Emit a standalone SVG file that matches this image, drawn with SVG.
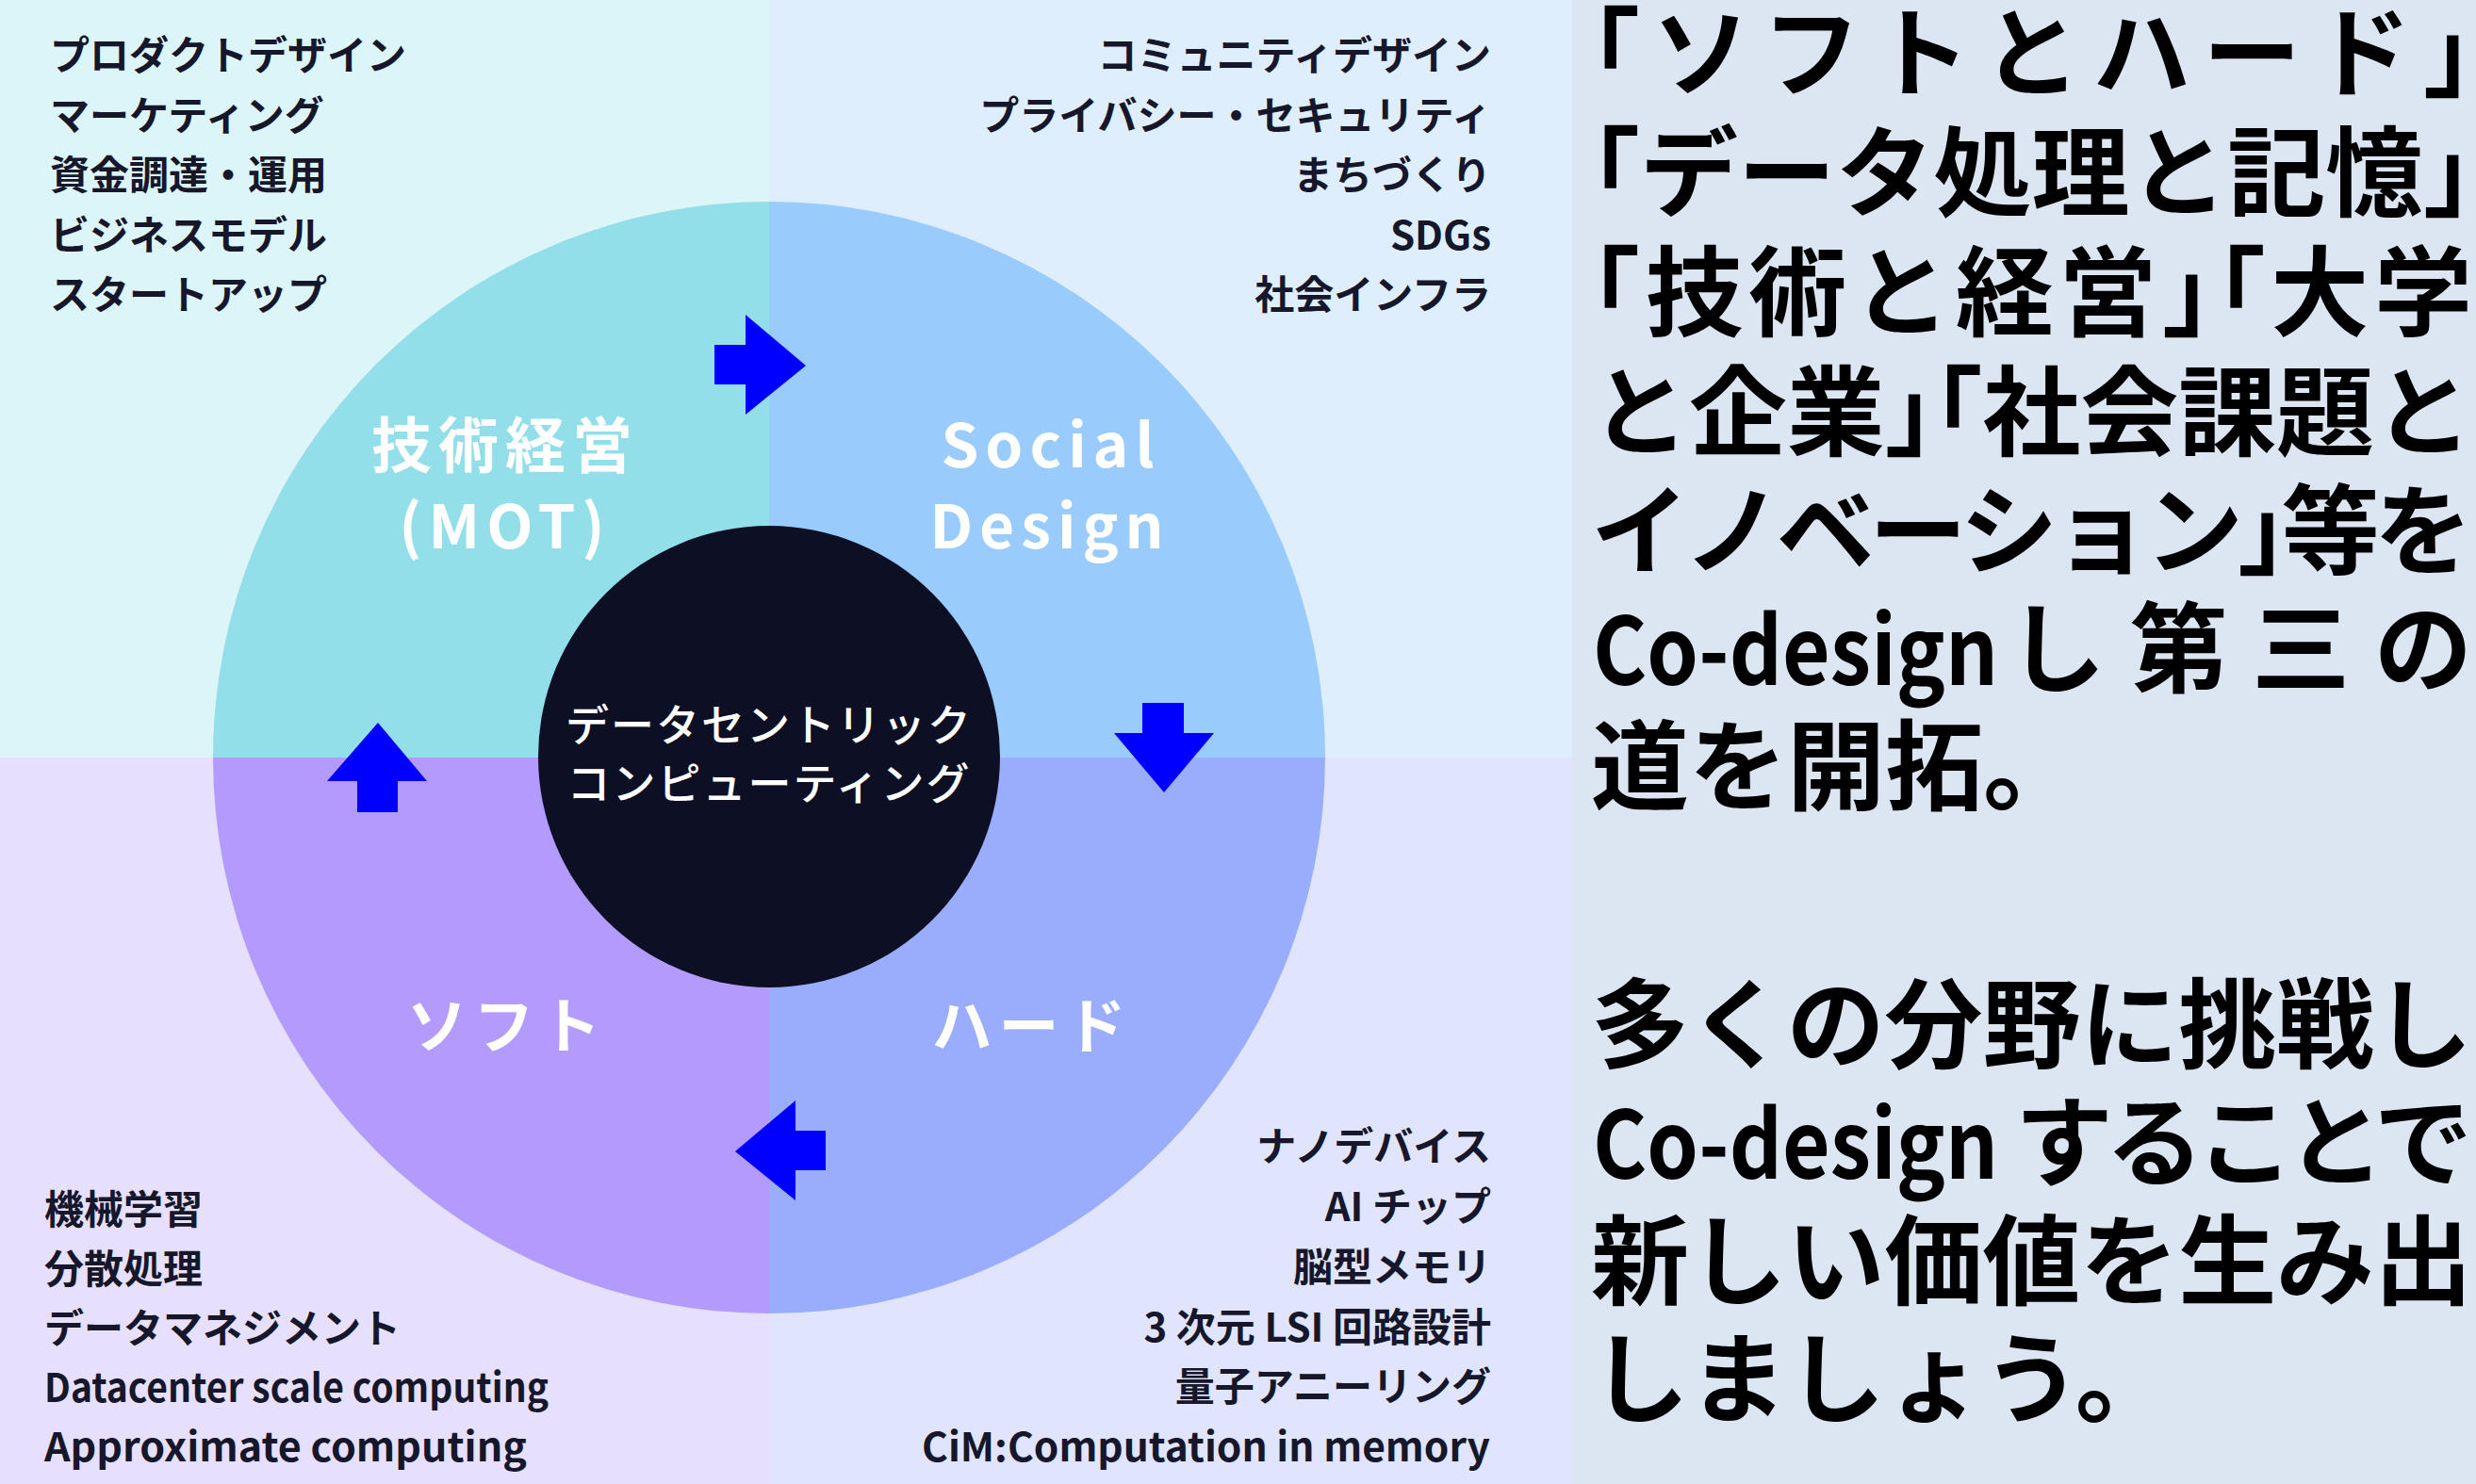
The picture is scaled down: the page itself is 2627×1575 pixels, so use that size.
<svg xmlns="http://www.w3.org/2000/svg" width="2627" height="1575" viewBox="0 0 2627 1575">
<style>
text{font-family:"Noto Sans CJK JP","Noto Sans",sans-serif;}
.list{font-size:42px;font-weight:700;fill:#16172b;}
.r{text-anchor:end;}
.lbl{font-size:64px;font-weight:700;fill:#ffffff;text-anchor:middle;letter-spacing:7px;}
.ctr{font-size:46px;font-weight:500;fill:#ffffff;text-anchor:middle;letter-spacing:2px;}
.big{font-size:104px;font-weight:700;fill:#000000;font-feature-settings:"halt";}
.lat{font-size:100px;}
.arrow{fill:#0000ff;}
</style>
<g id="background">
<rect x="0" y="0" width="816" height="804" fill="#dcf5f9"/>
<rect x="816" y="0" width="852" height="804" fill="#deeefd"/>
<rect x="0" y="804" width="816" height="771" fill="#e7e0fd"/>
<rect x="816" y="804" width="852" height="771" fill="#e0e5fd"/>
<rect x="1668" y="0" width="959" height="1575" fill="#dce6f2"/>
</g>
<g id="node-mot">
<path d="M816,804 L226,804 A590,590 0 0 1 816,214 Z" fill="#93dfe9"/>
<text class="lbl" x="536" y="496">技術経営</text>
<text class="lbl" x="536" y="582">(MOT)</text>
</g>
<g id="node-social">
<path d="M816,804 L816,214 A590,590 0 0 1 1406,804 Z" fill="#99cbfd"/>
<text class="lbl" x="1115" y="496">Social</text>
<text class="lbl" x="1114" y="582">Design</text>
</g>
<g id="node-hard">
<path d="M816,804 L1406,804 A590,590 0 0 1 816,1394 Z" fill="#9aadfc"/>
<text class="lbl" x="1095" y="1112">ハード</text>
</g>
<g id="node-soft">
<path d="M816,804 L816,1394 A590,590 0 0 1 226,804 Z" fill="#b39afd"/>
<text class="lbl" x="538" y="1112">ソフト</text>
</g>
<g id="node-center">
<circle cx="816" cy="803" r="245" fill="#0d0f24"/>
<text class="ctr" x="816" y="786">データセントリック</text>
<text class="ctr" x="816" y="848">コンピューティング</text>
</g>
<g id="connectors">
<polygon class="arrow" points="758,366 791,366 791,334 855,388 791,440 791,408 758,408"/>
<polygon class="arrow" points="1212,746 1256,746 1256,778 1288,778 1235,841 1182,778 1212,778"/>
<polygon class="arrow" points="876,1200 876,1242 844,1242 844,1274 780,1222 844,1168 844,1200"/>
<polygon class="arrow" points="379,862 379,829 347,829 401,767 453,829 422,829 422,862"/>
</g>
<g id="list-mot">
<text class="list" x="53" y="74">プロダクトデザイン</text>
<text class="list" x="53" y="138">マーケティング</text>
<text class="list" x="53" y="201">資金調達・運用</text>
<text class="list" x="53" y="265">ビジネスモデル</text>
<text class="list" x="53" y="328">スタートアップ</text>
</g>
<g id="list-social">
<text class="list r" x="1582" y="74">コミュニティデザイン</text>
<text class="list r" x="1582" y="138">プライバシー・セキュリティ</text>
<text class="list r" x="1582" y="201">まちづくり</text>
<text class="list r" x="1582" y="265">SDGs</text>
<text class="list r" x="1582" y="328">社会インフラ</text>
</g>
<g id="list-soft">
<text class="list" x="47" y="1299">機械学習</text>
<text class="list" x="47" y="1362">分散処理</text>
<text class="list" x="47" y="1425">データマネジメント</text>
<text class="list" x="47" y="1488" textLength="535" lengthAdjust="spacingAndGlyphs">Datacenter scale computing</text>
<text class="list" x="47" y="1551" textLength="512" lengthAdjust="spacingAndGlyphs">Approximate computing</text>
</g>
<g id="list-hard">
<text class="list r" x="1582" y="1232">ナノデバイス</text>
<text class="list r" x="1582" y="1296">AI チップ</text>
<text class="list r" x="1582" y="1360">脳型メモリ</text>
<text class="list r" x="1582" y="1424">3 次元 LSI 回路設計</text>
<text class="list r" x="1582" y="1487">量子アニーリング</text>
<text class="list" x="978" y="1551" textLength="603" lengthAdjust="spacingAndGlyphs">CiM:Computation in memory</text>
</g>
<g id="message">
<text class="big" x="1688" y="95" textLength="935" lengthAdjust="spacing">「ソフトとハード」</text>
<text class="big" x="1688" y="222" textLength="935" lengthAdjust="spacing">「データ処理と記憶」</text>
<text class="big" x="1688" y="349" textLength="935" lengthAdjust="spacing">「技術と経営」「大学</text>
<text class="big" x="1688" y="476" textLength="935" lengthAdjust="spacing">と企業」「社会課題と</text>
<text class="big" x="1688" y="602" textLength="935" lengthAdjust="spacing">イノベーション」等を</text>
<text class="big lat" x="1690" y="727" textLength="430" lengthAdjust="spacingAndGlyphs">Co-design</text>
<text class="big" x="2130" y="727" textLength="493" lengthAdjust="spacing">し第三の</text>
<text class="big" x="1688" y="852">道を開拓。</text>
<text class="big" x="1688" y="1126" textLength="935" lengthAdjust="spacing">多くの分野に挑戦し</text>
<text class="big lat" x="1690" y="1251" textLength="430" lengthAdjust="spacingAndGlyphs">Co-design</text>
<text class="big" x="2138" y="1251" textLength="485" lengthAdjust="spacing">することで</text>
<text class="big" x="1688" y="1377" textLength="935" lengthAdjust="spacing">新しい価値を生み出</text>
<text class="big" x="1688" y="1502">しましょう。</text>
</g>
</svg>
